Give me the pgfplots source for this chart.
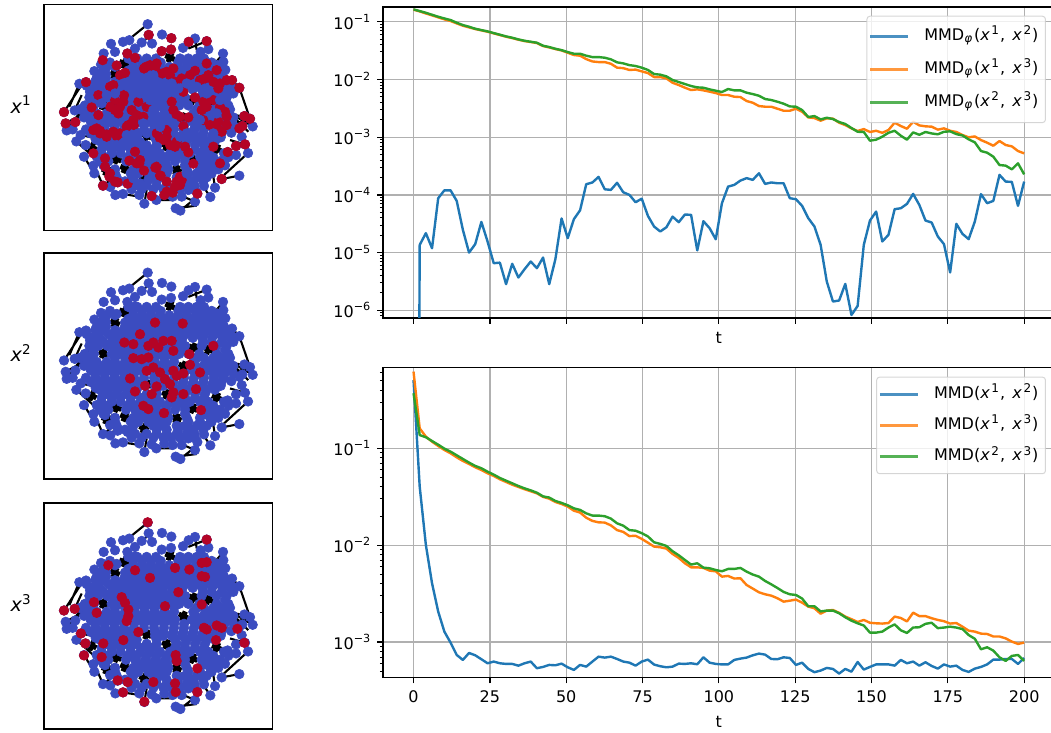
\documentclass[border=0pt]{standalone}
\usepackage{pgfplots}
\usepackage{pgfplotstable}
\usepackage{fontspec}
\pgfplotsset{compat=1.18}
\setmainfont{DejaVu Sans}
\definecolor{tabblue}{HTML}{1F77B4}
\definecolor{taborange}{HTML}{FF7F0E}
\definecolor{tabgreen}{HTML}{2CA02C}
\definecolor{nblue}{HTML}{3B4CC0}
\definecolor{nred}{HTML}{B40426}
\definecolor{gridc}{HTML}{B0B0B0}
\definecolor{legc}{HTML}{CCCCCC}
\newcommand{\dec}[1]{10\raisebox{0.42em}{\fontsize{5.6}{6}\selectfont −#1}}
\newcommand{\xx}[1]{\textit{x}\hspace{0.1em}\textsuperscript{#1}}
\newcommand{\mmdphi}[2]{\hspace{5pt}MMD\textsubscript{\textit{φ}}\hspace{0.05em}(\xx{#1},\hspace{0.45em}\xx{#2})\hspace{3.5pt}}
\newcommand{\mmd}[2]{\hspace{5pt}MMD(\xx{#1},\hspace{0.45em}\xx{#2})\hspace{3.5pt}}

% --- curves: t = k*200/99, k = 0..99
\pgfplotstableread[row sep=\\]{v\\1e-30\\1.36e-5\\2.17e-5\\1.19e-5\\8.75e-5\\1.2e-4\\1.2e-4\\7.87e-5\\2.48e-5\\1.0e-5\\1.4e-5\\3.4e-5\\1.56e-5\\6.55e-6\\6.7e-6\\2.84e-6\\6.4e-6\\3.7e-6\\5.15e-6\\7e-6\\5.37e-6\\8.2e-6\\2.84e-6\\7.7e-6\\3.9e-5\\1.78e-5\\3.8e-5\\5.4e-5\\1.53e-4\\1.64e-4\\2.05e-4\\1.25e-4\\1.22e-4\\1.62e-4\\1.11e-4\\1.0e-4\\7.46e-5\\8.6e-5\\4.33e-5\\2.83e-5\\2.32e-5\\2.75e-5\\4.2e-5\\3.36e-5\\4.57e-5\\4.5e-5\\1.09e-5\\3.5e-5\\2.65e-5\\1.7e-5\\7.17e-5\\1.39e-4\\1.49e-4\\1.77e-4\\1.95e-4\\1.82e-4\\2.37e-4\\1.55e-4\\1.64e-4\\1.59e-4\\1.59e-4\\8.76e-5\\8.41e-5\\6.45e-5\\3.95e-5\\2.83e-5\\1.36e-5\\3.15e-6\\1.42e-6\\1.48e-6\\2.87e-6\\8.3e-7\\1.19e-6\\1.36e-5\\3.59e-5\\5.14e-5\\1.56e-5\\2.03e-5\\5.65e-5\\5.87e-5\\6.98e-5\\1.04e-4\\6.71e-5\\3.59e-5\\3.32e-5\\1.9e-5\\1.4e-5\\4.52e-6\\3.15e-5\\2.11e-5\\1.71e-5\\3.45e-5\\1.03e-4\\7.17e-5\\7.87e-5\\2.22e-4\\1.70e-4\\1.68e-4\\6.45e-5\\1.70e-4\\}\topblue
\pgfplotstableread[row sep=\\]{v\\0.1615\\0.151\\0.139\\0.129\\0.119\\0.110\\0.1028\\0.0935\\0.0853\\0.0798\\0.0747\\0.0708\\0.0671\\0.0628\\0.0588\\0.0550\\0.0521\\0.0488\\0.0462\\0.0445\\0.0427\\0.0379\\0.0359\\0.0336\\0.0318\\0.0290\\0.0265\\0.0258\\0.0225\\0.0205\\0.0200\\0.0200\\0.0187\\0.0160\\0.0157\\0.0146\\0.0148\\0.0138\\0.0129\\0.0110\\0.0110\\0.0104\\0.00877\\0.00800\\0.00719\\0.00655\\0.00673\\0.00647\\0.00614\\0.00581\\0.00537\\0.00537\\0.00502\\0.00495\\0.00423\\0.00395\\0.00346\\0.00337\\0.00337\\0.00311\\0.00287\\0.00287\\0.00311\\0.00276\\0.00220\\0.00214\\0.00193\\0.00212\\0.00209\\0.00178\\0.00162\\0.00142\\0.00128\\0.00138\\0.00123\\0.00129\\0.00119\\0.00133\\0.00178\\0.00156\\0.00140\\0.00185\\0.00160\\0.00154\\0.00152\\0.00135\\0.00142\\0.00129\\0.00123\\0.00109\\0.000993\\0.00103\\0.000891\\0.000802\\0.000711\\0.000857\\0.000731\\0.000693\\0.000575\\0.000524\\}\toporange
\pgfplotstableread[row sep=\\]{v\\0.1637\\0.153\\0.143\\0.132\\0.122\\0.114\\0.107\\0.0961\\0.0875\\0.0819\\0.0756\\0.0717\\0.068\\0.0636\\0.0596\\0.0557\\0.0528\\0.0494\\0.0468\\0.0450\\0.0433\\0.0384\\0.0364\\0.0340\\0.0322\\0.0298\\0.0279\\0.0279\\0.0258\\0.0244\\0.0244\\0.0238\\0.0223\\0.0198\\0.0190\\0.0177\\0.0171\\0.0160\\0.0146\\0.0124\\0.0121\\0.0113\\0.00977\\0.00902\\0.00832\\0.00769\\0.00729\\0.00719\\0.00673\\0.00638\\0.00605\\0.00682\\0.00647\\0.00647\\0.00589\\0.00558\\0.00522\\0.00458\\0.00440\\0.00411\\0.00380\\0.00341\\0.00337\\0.00295\\0.00223\\0.00232\\0.00203\\0.00217\\0.00206\\0.00183\\0.00169\\0.00144\\0.00124\\0.00123\\0.000869\\0.000904\\0.00102\\0.00119\\0.00129\\0.00106\\0.000904\\0.00121\\0.00110\\0.00123\\0.00116\\0.00112\\0.00124\\0.00126\\0.00113\\0.00107\\0.000916\\0.000813\\0.000575\\0.000538\\0.000459\\0.000329\\0.000321\\0.000277\\0.000352\\0.000227\\}\topgreen
\pgfplotstableread[row sep=\\]{v\\0.507\\0.0402\\0.01005\\0.00404\\0.00206\\0.00128\\0.000986\\0.000735\\0.000653\\0.000771\\0.000729\\0.000664\\0.000603\\0.000628\\0.000603\\0.000594\\0.000594\\0.00057\\0.000603\\0.000628\\0.000536\\0.000553\\0.00058\\0.000575\\0.000598\\0.000548\\0.000515\\0.00058\\0.000557\\0.000628\\0.000706\\0.00069\\0.000706\\0.000668\\0.000628\\0.000612\\0.00057\\0.000628\\0.000658\\0.000585\\0.000562\\0.000548\\0.000557\\0.000598\\0.000594\\0.000603\\0.000589\\0.000695\\0.000612\\0.000594\\0.000587\\0.000587\\0.000653\\0.000674\\0.00069\\0.000729\\0.000759\\0.000741\\0.000668\\0.000664\\0.000695\\0.000684\\0.00058\\0.000612\\0.000527\\0.000488\\0.000507\\0.00054\\0.000527\\0.000472\\0.000527\\0.000494\\0.000622\\0.000519\\0.000553\\0.000587\\0.000587\\0.000587\\0.00057\\0.000653\\0.000603\\0.000628\\0.00057\\0.000618\\0.000566\\0.000531\\0.000587\\0.000557\\0.00057\\0.000515\\0.000491\\0.000531\\0.000553\\0.000587\\0.000658\\0.000658\\0.000668\\0.000668\\0.000594\\0.000684\\}\botblue
\pgfplotstableread[row sep=\\]{v\\0.619\\0.1606\\0.132\\0.117\\0.1057\\0.0961\\0.0888\\0.0807\\0.074\\0.0689\\0.0637\\0.0597\\0.0552\\0.0518\\0.0479\\0.0449\\0.0421\\0.0399\\0.0378\\0.036\\0.0343\\0.0315\\0.0302\\0.0279\\0.0266\\0.025\\0.0227\\0.0217\\0.0192\\0.0178\\0.0172\\0.0171\\0.016\\0.0143\\0.0137\\0.0124\\0.0125\\0.0116\\0.0106\\0.00966\\0.00951\\0.00921\\0.00811\\0.00738\\0.0065\\0.0059\\0.0059\\0.00582\\0.00546\\0.00537\\0.00473\\0.00481\\0.00452\\0.00455\\0.00388\\0.00356\\0.00326\\0.00311\\0.00301\\0.00283\\0.00261\\0.00267\\0.00274\\0.00255\\0.00232\\0.00223\\0.00196\\0.00211\\0.00214\\0.002\\0.00183\\0.00172\\0.00161\\0.00169\\0.00158\\0.00156\\0.00155\\0.00157\\0.00183\\0.00177\\0.00163\\0.00201\\0.00185\\0.00185\\0.00176\\0.00169\\0.00164\\0.00155\\0.00157\\0.00144\\0.00131\\0.00128\\0.00122\\0.00121\\0.00114\\0.00114\\0.00109\\0.00101\\0.000955\\0.000986\\}\botorange
\pgfplotstableread[row sep=\\]{v\\0.37\\0.137\\0.13\\0.119\\0.109\\0.0992\\0.0924\\0.0847\\0.0776\\0.0712\\0.0658\\0.0622\\0.0574\\0.0535\\0.0494\\0.0463\\0.0435\\0.0408\\0.0386\\0.0368\\0.0348\\0.0319\\0.031\\0.0286\\0.0273\\0.0258\\0.024\\0.0231\\0.0213\\0.0202\\0.0202\\0.0199\\0.0188\\0.0168\\0.0159\\0.0143\\0.0141\\0.0133\\0.0123\\0.0107\\0.0103\\0.00981\\0.00865\\0.00786\\0.00703\\0.0063\\0.0065\\0.00586\\0.00577\\0.00554\\0.00537\\0.00568\\0.00568\\0.00582\\0.00533\\0.00497\\0.00473\\0.00427\\0.00394\\0.00361\\0.00329\\0.00311\\0.00306\\0.00281\\0.00234\\0.00234\\0.00207\\0.00211\\0.00211\\0.00198\\0.0018\\0.00166\\0.00156\\0.00148\\0.00125\\0.00125\\0.00128\\0.00141\\0.00152\\0.00132\\0.00124\\0.00141\\0.00142\\0.00154\\0.00158\\0.00139\\0.00141\\0.00144\\0.00141\\0.00136\\0.00118\\0.00108\\0.000841\\0.000882\\0.000815\\0.000695\\0.000638\\0.000718\\0.000735\\0.000638\\}\botgreen

% --- graph nodes, same layout in the three panels (x, y)
\pgfplotstableread[row sep=\\]{x y\\
443 72\\446 104\\486 103\\514 114\\585 115\\566 125\\620 123\\388 120\\369 125\\333 131\\425 127\\456 130\\311 160\\485 153\\513 148\\549 143\\669 160\\602 155\\625 147\\670 185\\676 209\\648 212\\652 195\\382 160\\405 145\\405 173\\345 155\\350 196\\303 193\\283 213\\238 251\\258 246\\290 240\\270 275\\295 285\\696 240\\718 263\\670 238\\697 265\\192 336\\224 331\\254 318\\197 370\\226 366\\200 391\\218 388\\242 405\\229 424\\257 435\\287 418\\252 470\\283 520\\290 470\\280 497\\315 500\\330 530\\353 547\\309 557\\331 561\\346 585\\369 582\\383 551\\433 611\\418 585\\455 588\\469 600\\493 585\\518 590\\527 625\\541 632\\545 590\\585 605\\592 581\\631 591\\612 558\\565 570\\583 555\\645 563\\665 537\\718 527\\708 465\\744 459\\683 456\\735 433\\708 438\\725 410\\694 398\\758 379\\750 356\\733 348\\718 385\\727 378\\680 335\\675 372\\
385 175\\412 175\\440 175\\468 175\\540 175\\565 175\\590 175\\612 175\\
320 200\\345 200\\400 200\\425 200\\452 200\\480 200\\508 200\\535 200\\560 200\\590 200\\618 200\\642 200\\
300 222\\318 222\\375 222\\397 222\\420 222\\445 222\\472 222\\500 222\\530 222\\562 222\\590 222\\625 222\\655 222\\
285 245\\312 245\\345 245\\370 245\\395 245\\425 245\\452 245\\480 245\\510 245\\540 245\\568 245\\598 245\\628 245\\660 245\\
272 268\\300 268\\345 268\\375 268\\402 268\\432 268\\462 268\\490 268\\518 268\\548 268\\578 268\\606 268\\636 268\\668 268\\690 268\\
268 292\\295 292\\322 292\\350 292\\382 292\\410 292\\440 292\\470 292\\500 292\\528 292\\555 292\\605 292\\650 292\\680 292\\
255 316\\282 316\\335 316\\358 316\\388 316\\418 316\\448 316\\478 316\\508 316\\538 316\\565 316\\598 316\\650 316\\685 316\\
262 340\\290 340\\320 340\\345 340\\375 340\\405 340\\435 340\\465 340\\495 340\\522 340\\580 340\\620 340\\650 340\\678 340\\
272 364\\300 364\\328 364\\355 364\\385 364\\415 364\\445 364\\475 364\\505 364\\525 364\\575 364\\600 364\\625 364\\655 364\\690 364\\
258 388\\288 388\\315 388\\345 388\\372 388\\402 388\\432 388\\462 388\\492 388\\522 388\\552 388\\582 388\\612 388\\642 388\\672 388\\
312 412\\340 412\\368 412\\395 412\\465 412\\490 412\\515 412\\545 412\\575 412\\605 412\\635 412\\662 412\\
320 436\\348 436\\378 436\\408 436\\440 436\\470 436\\530 436\\555 436\\585 436\\615 436\\
305 460\\335 460\\362 460\\392 460\\420 460\\450 460\\480 460\\510 460\\540 460\\570 460\\600 460\\625 460\\672 460\\
300 484\\325 484\\378 484\\405 484\\435 484\\465 484\\495 484\\525 484\\555 484\\605 484\\630 484\\660 484\\
345 508\\400 508\\425 508\\455 508\\485 508\\505 508\\560 508\\600 508\\630 508\\655 508\\
350 532\\400 532\\460 532\\490 532\\530 532\\555 532\\590 532\\620 532\\
405 556\\440 556\\470 556\\500 556\\530 556\\560 556\\
330 187\\400 187\\428 187\\455 187\\482 187\\535 187\\560 187\\585 187\\610 187\\635 187\\
310 211\\385 211\\410 211\\438 211\\465 211\\490 211\\515 211\\545 211\\575 211\\605 211\\635 211\\665 211\\
290 234\\318 234\\375 234\\408 234\\435 234\\462 234\\490 234\\518 234\\548 234\\578 234\\610 234\\640 234\\672 234\\
260 257\\290 257\\325 257\\360 257\\385 257\\412 257\\440 257\\468 257\\498 257\\525 257\\555 257\\585 257\\612 257\\645 257\\680 257\\
285 280\\310 280\\335 280\\365 280\\395 280\\425 280\\455 280\\485 280\\515 280\\542 280\\610 280\\635 280\\665 280\\700 280\\
280 304\\345 304\\372 304\\398 304\\428 304\\458 304\\488 304\\518 304\\548 304\\675 304\\
240 328\\272 328\\345 328\\375 328\\403 328\\432 328\\462 328\\492 328\\522 328\\590 328\\612 328\\640 328\\665 328\\690 328\\
252 352\\280 352\\310 352\\338 352\\365 352\\395 352\\425 352\\455 352\\485 352\\515 352\\585 352\\610 352\\640 352\\668 352\\700 352\\
285 376\\314 376\\342 376\\372 376\\402 376\\432 376\\462 376\\492 376\\522 376\\552 376\\590 376\\612 376\\640 376\\665 376\\700 376\\
272 400\\300 400\\330 400\\358 400\\388 400\\412 400\\465 400\\490 400\\520 400\\550 400\\580 400\\610 400\\640 400\\665 400\\
300 424\\325 424\\354 424\\385 424\\410 424\\470 424\\525 424\\560 424\\590 424\\620 424\\645 424\\
305 448\\335 448\\362 448\\392 448\\428 448\\458 448\\525 448\\555 448\\585 448\\612 448\\
315 472\\385 472\\410 472\\440 472\\470 472\\500 472\\530 472\\555 472\\610 472\\640 472\\685 472\\
310 496\\415 496\\445 496\\475 496\\500 496\\555 496\\615 496\\645 496\\675 496\\
345 520\\392 520\\415 520\\445 520\\475 520\\500 520\\565 520\\600 520\\635 520\\
375 544\\395 544\\470 544\\500 544\\535 544\\575 544\\610 544\\
395 568\\425 568\\460 568\\490 568\\515 568\\540 568\\585 568\\
}\allnodes

\pgfplotstableread[row sep=\\]{x y\\446 104\\514 114\\566 125\\620 123\\485 153\\513 148\\382 160\\405 173\\350 196\\258 246\\308 180\\192 336\\197 370\\226 366\\735 433\\708 438\\718 263\\696 240\\733 348\\750 356\\727 378\\718 385\\683 456\\665 537\\592 581\\309 557\\353 547\\383 551\\455 588\\493 585\\518 578\\540 555\\540 530\\530 545\\480 527\\432 512\\466 503\\418 490\\405 455\\388 482\\315 500\\328 530\\280 460\\315 475\\300 392\\280 390\\320 403\\350 408\\385 375\\402 375\\395 330\\415 305\\430 350\\360 320\\355 340\\275 322\\295 345\\295 285\\330 260\\340 255\\372 285\\360 225\\375 218\\432 205\\465 205\\450 195\\487 220\\510 225\\585 212\\545 235\\525 245\\550 275\\585 292\\615 235\\640 245\\655 265\\650 210\\620 190\\610 305\\620 320\\605 330\\630 375\\650 380\\680 375\\675 335\\515 305\\530 345\\565 352\\550 378\\500 390\\470 400\\490 420\\510 435\\525 440\\555 440\\565 457\\580 491\\500 545\\482 527\\640 440\\660 490\\680 350\\440 320\\438 200\\470 190\\500 215\\520 205\\570 225\\600 240\\625 225\\660 250\\680 240\\640 300\\625 300\\660 320\\610 360\\655 365\\665 395\\345 300\\330 320\\345 330\\370 305\\410 345\\400 360\\380 380\\340 395\\300 400\\290 385\\320 410\\360 400\\520 330\\540 350\\500 410\\480 415\\530 425\\470 500\\420 480\\410 490\\545 540\\525 560\\500 575\\330 520\\345 545\\}\redA
\pgfplotstableread[row sep=\\]{x y\\440 235\\460 225\\475 250\\515 250\\500 265\\420 280\\440 270\\465 280\\490 290\\535 265\\560 250\\590 260\\450 300\\480 310\\460 330\\430 370\\470 350\\500 355\\520 370\\600 360\\585 385\\560 400\\540 410\\440 400\\415 400\\420 425\\440 450\\470 440\\455 470\\490 480\\370 430\\350 435\\335 450\\380 405\\330 360\\305 310\\320 285\\345 280\\385 260\\395 250\\415 240\\370 250\\620 280\\660 300\\680 290\\640 400\\610 430\\600 470\\520 470\\480 380\\650 340\\600 410\\420 550\\445 540\\400 535\\560 520\\590 520\\620 510\\630 480\\}\blueA
% red nodes of the second panel, y as read in that panel's own crop
\pgfplotstableread[row sep=\\]{x y\\465 235\\548 238\\420 270\\373 295\\400 300\\640 305\\460 295\\445 305\\475 310\\490 290\\515 290\\400 342\\425 345\\445 340\\520 320\\568 330\\460 370\\440 380\\480 385\\520 380\\550 388\\570 362\\600 385\\390 403\\495 405\\510 420\\530 395\\470 427\\405 442\\435 425\\455 450\\520 445\\515 460\\550 450\\588 435\\430 485\\445 495\\492 507\\603 498\\}\redB
% red nodes of the third panel, y as read in that panel's own crop
\pgfplotstableread[row sep=\\]{x y\\443 88\\620 140\\325 217\\405 232\\525 225\\568 230\\605 210\\620 208\\605 250\\615 252\\450 255\\535 298\\365 313\\375 330\\385 350\\385 370\\380 385\\282 328\\290 360\\192 353\\224 348\\495 340\\605 335\\612 405\\620 410\\650 398\\665 405\\712 408\\733 450\\648 442\\243 422\\256 452\\252 488\\310 452\\305 493\\370 442\\415 418\\527 487\\530 505\\592 527\\353 563\\383 568\\369 599\\433 627\\527 598\\592 598\\460 568\\525 572\\}\redC

\newcommand{\edgeplot}{%
\addplot[black,line width=1.05pt,unbounded coords=jump] coordinates {
(443,72)(390,115)(nan,nan)(446,104)(430,127)(nan,nan)(620,123)(565,145)(nan,nan)(585,115)(590,150)(nan,nan)(600,155)(625,147)(nan,nan)(670,160)(640,195)(nan,nan)
(718,263)(750,356)(nan,nan)(696,240)(718,263)(nan,nan)(192,336)(240,262)(nan,nan)(238,251)(208,320)(nan,nan)(224,331)(245,285)(nan,nan)(254,318)(200,391)(nan,nan)(197,370)(250,340)(nan,nan)(226,366)(270,300)(nan,nan)(242,405)(290,415)(nan,nan)(229,424)(280,470)(nan,nan)(257,435)(310,450)(nan,nan)(252,470)(283,520)(nan,nan)(283,497)(309,557)(nan,nan)(309,557)(345,530)(nan,nan)(331,561)(355,530)(nan,nan)(346,585)(369,582)(nan,nan)(369,582)(418,590)(nan,nan)(383,551)(420,565)(nan,nan)(433,611)(440,570)(nan,nan)(469,600)(518,600)(nan,nan)(527,625)(590,617)(nan,nan)(541,632)(580,600)(nan,nan)(527,625)(541,632)(nan,nan)(585,605)(550,590)(nan,nan)(631,591)(610,560)(nan,nan)(645,563)(640,530)(nan,nan)(665,537)(718,527)(nan,nan)(744,459)(672,525)(nan,nan)(708,465)(660,450)(nan,nan)(735,433)(690,420)(nan,nan)(725,410)(700,370)(nan,nan)(758,379)(700,345)(nan,nan)(733,348)(695,345)(nan,nan)(750,356)(695,375)(nan,nan)(700,350)(745,395)(nan,nan)(683,456)(650,490)(nan,nan)
};
% the dense knots of edges between nodes
\addplot[black,line width=2.6pt,unbounded coords=jump] coordinates {
(331,216)(359,228)(nan,nan)(339,236)(351,208)(nan,nan)
(358,184)(386,196)(nan,nan)(366,204)(378,176)(nan,nan)
(496,166)(524,178)(nan,nan)(504,186)(516,158)(nan,nan)
(296,309)(324,321)(nan,nan)(304,329)(316,301)(nan,nan)
(336,471)(364,483)(nan,nan)(344,491)(356,463)(nan,nan)
(361,499)(389,511)(nan,nan)(369,519)(381,491)(nan,nan)
(418,534)(446,546)(nan,nan)(426,554)(438,526)(nan,nan)
(516,504)(544,516)(nan,nan)(524,524)(536,496)(nan,nan)
(636,441)(664,453)(nan,nan)(644,461)(656,433)(nan,nan)
(564,474)(592,486)(nan,nan)(572,494)(584,466)(nan,nan)
(426,402)(454,414)(nan,nan)(434,422)(446,394)(nan,nan)
(486,432)(514,444)(nan,nan)(494,452)(506,424)(nan,nan)
(536,347)(564,359)(nan,nan)(544,367)(556,339)(nan,nan)
(566,292)(594,304)(nan,nan)(574,312)(586,284)(nan,nan)
(611,297)(639,309)(nan,nan)(619,317)(631,289)(nan,nan)
(306,507)(334,519)(nan,nan)(314,527)(326,499)(nan,nan)
(261,436)(289,448)(nan,nan)(269,456)(281,428)(nan,nan)
};}
\tikzset{
 curveline/.style={line width=1.2pt,line join=round},
 nodeblue/.style={nblue,only marks,mark=*,mark size=2.4pt,mark options={fill=nblue,draw=nblue,line width=0.3pt}},
 nodered/.style={nred,only marks,mark=*,mark size=2.4pt,mark options={fill=nred,draw=nred,line width=0.3pt}},
}
\pgfplotsset{
 legend image code/.code={\draw[#1,line width=1.2pt] (0pt,0pt) -- (19pt,0pt);},
 graphaxis/.style={width=114.35pt,height=113pt,scale only axis,anchor=south west,
  xmin=132,xmax=818,ymin=13,ymax=692,y dir=reverse,ticks=none,axis line style={line width=0.75pt},clip=true,
  ylabel style={rotate=-90,at={(axis description cs:-0.10,0.557)},anchor=center,font=\fontsize{9.6}{11}\selectfont}},
 chartaxis/.style={width=335.85pt,scale only axis,anchor=south west,xmin=-10,xmax=210,
  xtick={0,25,50,75,100,125,150,175,200},tick pos=left,tick align=outside,
  major tick length=2.8pt,minor tick length=1.6pt,
  every major tick/.append style={line width=0.64pt,black},every minor tick/.append style={line width=0.48pt,black},
  axis line style={line width=0.64pt},
  grid=major,grid style={gridc,line width=0.64pt},
  tick label style={font=\fontsize{8}{10}\selectfont},
  legend cell align=left,
  minor ytick={2e-7,3e-7,4e-7,5e-7,6e-7,7e-7,8e-7,9e-7,2e-6,3e-6,4e-6,5e-6,6e-6,7e-6,8e-6,9e-6,2e-5,3e-5,4e-5,5e-5,6e-5,7e-5,8e-5,9e-5,2e-4,3e-4,4e-4,5e-4,6e-4,7e-4,8e-4,9e-4,2e-3,3e-3,4e-3,5e-3,6e-3,7e-3,8e-3,9e-3,2e-2,3e-2,4e-2,5e-2,6e-2,7e-2,8e-2,9e-2,2e-1,3e-1,4e-1,5e-1,6e-1,7e-1,8e-1,9e-1},
  legend style={font=\fontsize{8}{10}\selectfont,draw=legc,rounded corners=1.5pt,fill=white,fill opacity=0.8,draw opacity=0.8,text opacity=1,line width=0.5pt,
   nodes={inner xsep=2.5pt,inner ysep=1pt,text height=6.5pt,text depth=2.3pt},inner xsep=1pt,anchor=north east},
 },
}
\begin{document}
\begin{tikzpicture}
\path[use as bounding box] (0pt,0pt) rectangle (525.5pt,366.5pt);
% graph panels
\begin{axis}[graphaxis,at={(22pt,251.2pt)},ylabel={\textit{x}\textsuperscript{1}}]
\edgeplot
\addplot[nodeblue] table[x=x,y=y] {\allnodes};
\addplot[nodered] table[x=x,y=y] {\redA};
\addplot[nodeblue] table[x=x,y=y] {\blueA};
\end{axis}
\begin{axis}[graphaxis,at={(22pt,127pt)},ylabel={\textit{x}\textsuperscript{2}}]
\edgeplot
\addplot[nodeblue] table[x=x,y=y] {\allnodes};
\addplot[nodered] table[x=x,y expr=\thisrow{y}-13] {\redB};
\end{axis}
\begin{axis}[graphaxis,at={(22pt,2pt)},ylabel={\textit{x}\textsuperscript{3}}]
\edgeplot
\addplot[nodeblue] table[x=x,y=y] {\allnodes};
\addplot[nodered] table[x=x,y expr=\thisrow{y}-17] {\redC};
\end{axis}
% curves, top
\begin{semilogyaxis}[chartaxis,at={(191.5pt,207.5pt)},height=155.5pt,ymin=7.36e-7,ymax=0.18,
  ytick={1e-6,1e-5,1e-4,1e-3,1e-2,1e-1},yticklabels={\dec{6},\dec{5},\dec{4},\dec{3},\dec{2},\dec{1}},
  xticklabels={},xlabel={t},xlabel style={at={(axis description cs:0.5,-0.0643)},anchor=center,font=\fontsize{8}{10}\selectfont},
  legend style={at={(0.987,0.972)},row sep=5.7pt,inner ysep=4.7pt}]
\addplot[curveline,tabblue] table[x expr=\coordindex*2.0202,y=v] {\topblue};
\addplot[curveline,taborange] table[x expr=\coordindex*2.0202,y=v] {\toporange};
\addplot[curveline,tabgreen] table[x expr=\coordindex*2.0202,y=v] {\topgreen};
\addlegendentry{\mmdphi{1}{2}}
\addlegendentry{\mmdphi{1}{3}}
\addlegendentry{\mmdphi{2}{3}}
\end{semilogyaxis}
% curves, bottom
\begin{semilogyaxis}[chartaxis,at={(191.5pt,27.65pt)},height=155.2pt,ymin=4.28e-4,ymax=0.686,
  ytick={1e-3,1e-2,1e-1},yticklabels={\dec{3},\dec{2},\dec{1}},
  xticklabels={0,25,50,75,100,125,150,175,200},xlabel={t},xlabel style={at={(axis description cs:0.5,-0.1427)},anchor=center,font=\fontsize{8}{10}\selectfont},
  legend style={at={(0.987,0.97)},row sep=4.75pt,inner ysep=3.2pt}]
\addplot[curveline,tabblue] table[x expr=\coordindex*2.0202,y=v] {\botblue};
\addplot[curveline,taborange] table[x expr=\coordindex*2.0202,y=v] {\botorange};
\addplot[curveline,tabgreen] table[x expr=\coordindex*2.0202,y=v] {\botgreen};
\addlegendentry{\mmd{1}{2}}
\addlegendentry{\mmd{1}{3}}
\addlegendentry{\mmd{2}{3}}
\end{semilogyaxis}
\end{tikzpicture}
\end{document}
